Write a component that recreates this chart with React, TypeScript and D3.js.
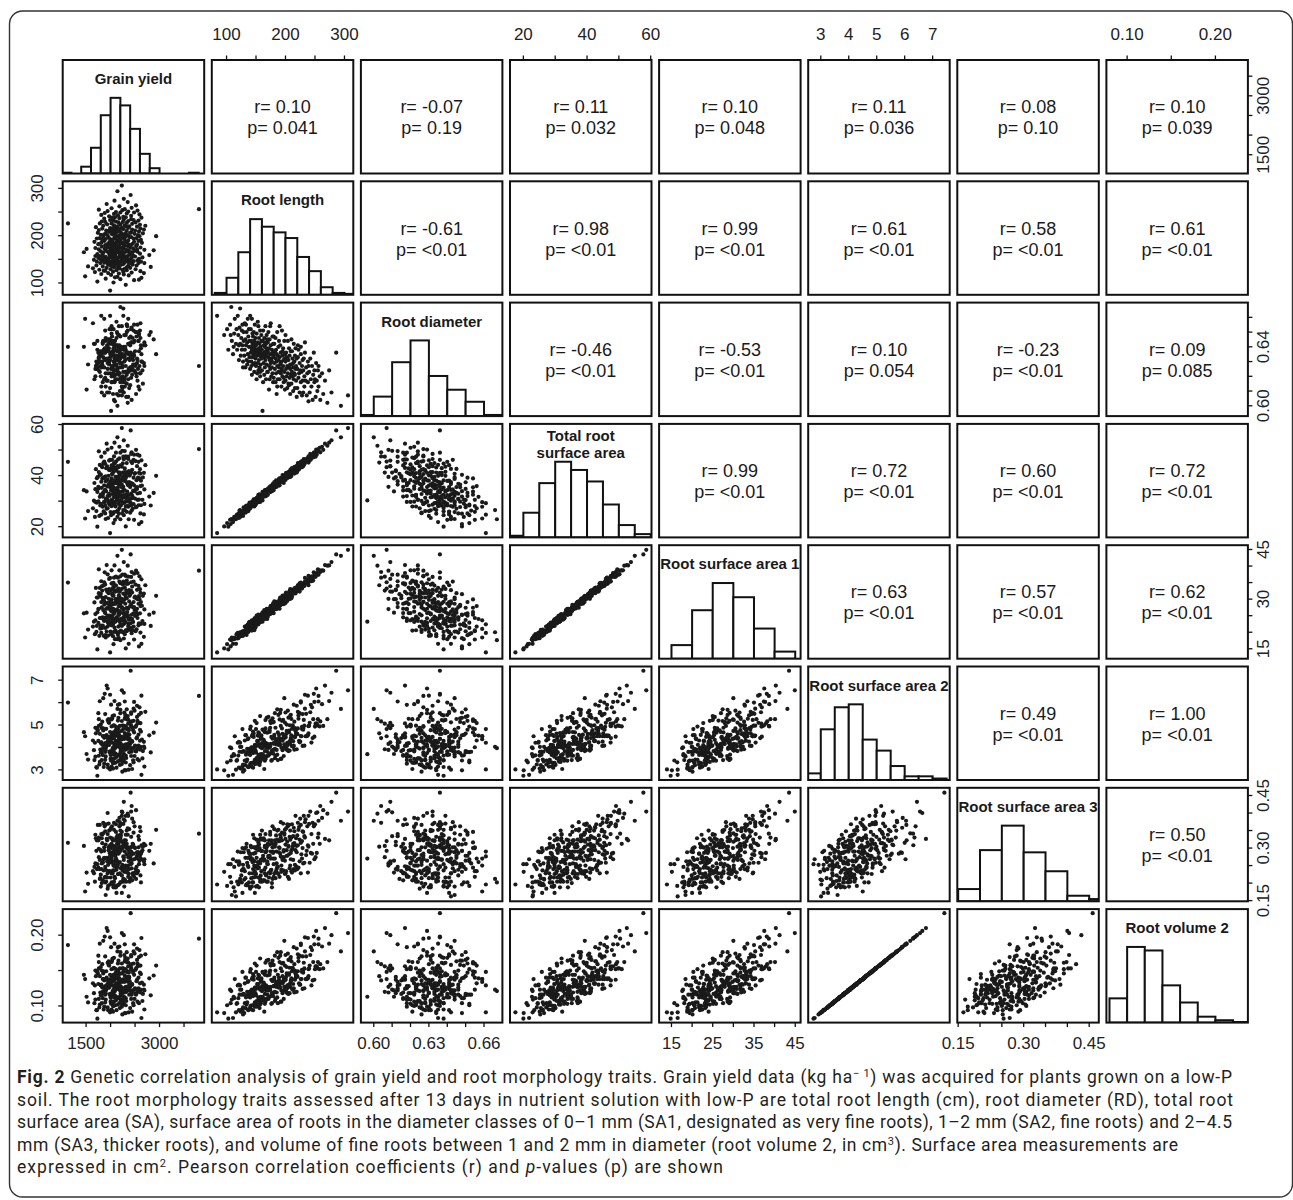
import React from "react";
import * as d3 from "d3";

// ---------------- DATA ----------------
const traitLabels: string[][] = [
  ["Grain yield"],
  ["Root length"],
  ["Root diameter"],
  ["Total root", "surface area"],
  ["Root surface area 1"],
  ["Root surface area 2"],
  ["Root surface area 3"],
  ["Root volume 2"],
];

// axis ranges (usr) of each trait
const axisDomains: [number, number][] = [
  [1022, 3912],
  [75, 315],
  [0.593, 0.67],
  [15.8, 60.25],
  [12.0, 46.3],
  [2.55, 7.61],
  [0.148, 0.472],
  [0.0765, 0.2368],
];

const axisTicks: number[][] = [
  [1500, 2000, 2500, 3000, 3500],
  [100, 150, 200, 250, 300],
  [0.6, 0.61, 0.62, 0.63, 0.64, 0.65, 0.66],
  [20, 30, 40, 50, 60],
  [15, 20, 25, 30, 35, 40, 45],
  [3, 4, 5, 6, 7],
  [0.15, 0.2, 0.25, 0.3, 0.35, 0.4, 0.45],
  [0.1, 0.15, 0.2],
];
const tickDecimals = [0, 0, 2, 0, 0, 0, 2, 2];
const columnAxisLabels: number[][] = [
  [1500, 3000],
  [100, 200, 300],
  [0.6, 0.63, 0.66],
  [20, 40, 60],
  [15, 25, 35, 45],
  [3, 4, 5, 6, 7],
  [0.15, 0.3, 0.45],
  [0.1, 0.2],
];
const rowAxisLabels: number[][] = [
  [1500, 3000],
  [100, 200, 300],
  [0.6, 0.64],
  [20, 40, 60],
  [15, 30, 45],
  [3, 5, 7],
  [0.15, 0.3, 0.45],
  [0.1, 0.2],
];

// histogram bins (start, width) and counts
const histStart = [1000, 80, 0.59, 15, 15, 2.5, 0.15, 0.08];
const histWidth = [200, 20, 0.01, 5, 5, 0.5, 0.05, 0.02];
const yieldCounts = [1, 0, 9, 34, 77, 100, 90, 59, 26, 7, 0, 0, 0, 1];
const lengthCounts = [2, 18, 45, 80, 72, 66, 60, 40, 25, 8, 2, 1];
const diameterCounts = [2, 34, 94, 132, 70, 46, 25, 2];
const saCounts = [2, 30, 66, 92, 82, 68, 40, 15, 4];
const sa1Counts = [23, 82, 128, 104, 51, 12];
const sa2Counts = [9, 69, 99, 103, 55, 40, 19, 5, 5, 2];
const sa3Counts = [22, 92, 136, 88, 54, 10, 4];
const rv2Counts = [41, 128, 122, 63, 34, 10, 4, 1];
const histCounts = [yieldCounts, lengthCounts, diameterCounts, saCounts, sa1Counts, sa2Counts, sa3Counts, rv2Counts];

// upper panels, row-major over the upper triangle
const rValues = [
  "0.10", "-0.07", "0.11", "0.10", "0.11", "0.08", "0.10",
  "-0.61", "0.98", "0.99", "0.61", "0.58", "0.61",
  "-0.46", "-0.53", "0.10", "-0.23", "0.09",
  "0.99", "0.72", "0.60", "0.72",
  "0.63", "0.57", "0.62",
  "0.49", "1.00",
  "0.50",
];
const pValues = [
  "0.041", "0.19", "0.032", "0.048", "0.036", "0.10", "0.039",
  "<0.01", "<0.01", "<0.01", "<0.01", "<0.01", "<0.01",
  "<0.01", "<0.01", "0.054", "<0.01", "0.085",
  "<0.01", "<0.01", "<0.01", "<0.01",
  "<0.01", "<0.01", "<0.01",
  "<0.01", "<0.01",
  "<0.01",
];

// observations: [grain yield, root length, root diameter, SA, SA1, SA2, SA3, root volume 2]
const plants: number[][] = [
  [1990, 84, 0.661, 17.5, 13.9, 3.02, 0.196, 0.091],
  [2310, 96, 0.648, 20.1, 15.1, 2.98, 0.232, 0.09],
  [2060, 101, 0.652, 21.4, 16.4, 3.34, 0.192, 0.101],
  [1730, 103, 0.638, 20.0, 14.8, 2.74, 0.254, 0.082],
  [2480, 106, 0.655, 22.7, 17.8, 4.01, 0.218, 0.123],
  [2200, 108, 0.667, 22.9, 17.6, 3.97, 0.202, 0.121],
  [1900, 109, 0.644, 23.0, 18.4, 3.6, 0.166, 0.109],
  [2630, 111, 0.635, 21.8, 16.5, 2.78, 0.268, 0.083],
  [2140, 113, 0.649, 23.8, 17.9, 3.65, 0.246, 0.111],
  [1480, 114, 0.659, 23.2, 18.4, 4.5, 0.176, 0.138],
  [2370, 116, 0.642, 22.9, 16.5, 3.01, 0.162, 0.091],
  [2010, 117, 0.652, 24.5, 19.4, 3.41, 0.262, 0.103],
  [2270, 118, 0.638, 24.5, 18.1, 3.44, 0.204, 0.104],
  [1810, 119, 0.661, 24.7, 19.8, 4.21, 0.29, 0.129],
  [2580, 107, 0.648, 21.0, 15.7, 3.42, 0.254, 0.104],
  [2090, 112, 0.64, 22.7, 17.9, 3.71, 0.188, 0.113],
  [2170, 120, 0.648, 25.1, 18.2, 3.64, 0.196, 0.111],
  [1950, 121, 0.631, 23.4, 19.0, 3.1, 0.252, 0.094],
  [2430, 122, 0.653, 26.3, 19.7, 3.81, 0.256, 0.116],
  [1680, 123, 0.642, 23.8, 19.4, 4.21, 0.204, 0.129],
  [2260, 123, 0.666, 26.5, 20.0, 4.03, 0.212, 0.123],
  [2050, 124, 0.634, 25.1, 18.8, 3.06, 0.288, 0.092],
  [2610, 125, 0.646, 25.2, 19.9, 4.03, 0.222, 0.123],
  [1860, 126, 0.638, 26.0, 18.9, 3.13, 0.236, 0.095],
  [2330, 127, 0.655, 25.8, 20.3, 4.82, 0.3, 0.148],
  [2120, 127, 0.641, 25.9, 20.0, 3.1, 0.172, 0.094],
  [1770, 128, 0.63, 24.2, 18.9, 3.24, 0.24, 0.098],
  [2510, 129, 0.65, 27.6, 20.3, 3.84, 0.24, 0.117],
  [2000, 129, 0.644, 25.7, 20.2, 3.82, 0.288, 0.116],
  [2290, 130, 0.634, 26.5, 19.4, 2.99, 0.21, 0.09],
  [1640, 131, 0.656, 27.2, 21.7, 4.31, 0.234, 0.132],
  [2180, 131, 0.638, 27.3, 20.1, 3.42, 0.298, 0.104],
  [2400, 132, 0.626, 25.5, 20.7, 3.21, 0.214, 0.097],
  [1920, 132, 0.645, 27.1, 20.2, 4.55, 0.272, 0.14],
  [2070, 133, 0.641, 25.7, 20.1, 3.68, 0.194, 0.112],
  [2820, 134, 0.65, 28.3, 21.9, 3.78, 0.312, 0.115],
  [2150, 134, 0.631, 26.4, 19.2, 3.38, 0.194, 0.102],
  [1840, 135, 0.643, 27.8, 22.0, 3.94, 0.258, 0.12],
  [2360, 136, 0.659, 27.8, 21.0, 4.37, 0.25, 0.134],
  [2020, 136, 0.635, 28.0, 22.3, 3.15, 0.272, 0.095],
  [2530, 137, 0.647, 27.7, 20.9, 4.41, 0.246, 0.135],
  [1710, 137, 0.63, 26.1, 20.1, 3.12, 0.292, 0.094],
  [2210, 138, 0.64, 28.3, 20.5, 3.83, 0.202, 0.117],
  [1980, 138, 0.652, 28.6, 22.9, 3.79, 0.286, 0.116],
  [2450, 139, 0.633, 27.0, 20.6, 3.94, 0.228, 0.12],
  [2090, 139, 0.644, 29.4, 23.1, 3.7, 0.19, 0.113],
  [2680, 121, 0.641, 24.8, 18.6, 4.25, 0.262, 0.13],
  [1890, 126, 0.651, 25.2, 19.1, 3.8, 0.202, 0.116],
  [2240, 128, 0.626, 25.3, 20.1, 2.92, 0.252, 0.088],
  [2330, 133, 0.655, 28.1, 20.6, 4.55, 0.302, 0.14],
  [1540, 135, 0.628, 26.1, 20.8, 3.46, 0.198, 0.105],
  [2160, 140, 0.64, 28.9, 21.7, 3.67, 0.284, 0.112],
  [1940, 140, 0.625, 27.2, 21.7, 3.24, 0.184, 0.098],
  [2420, 141, 0.652, 28.3, 21.3, 4.93, 0.268, 0.152],
  [2050, 141, 0.636, 29.3, 22.2, 3.3, 0.306, 0.1],
  [1790, 142, 0.63, 28.3, 21.1, 3.91, 0.214, 0.119],
  [2570, 142, 0.644, 28.4, 22.1, 3.99, 0.302, 0.122],
  [2280, 143, 0.638, 29.5, 22.6, 4.01, 0.19, 0.123],
  [1870, 143, 0.659, 29.6, 23.6, 4.51, 0.27, 0.138],
  [2100, 143, 0.621, 27.9, 20.5, 3.32, 0.266, 0.101],
  [2360, 144, 0.642, 28.1, 21.9, 3.98, 0.228, 0.122],
  [1990, 144, 0.633, 29.2, 22.6, 3.83, 0.26, 0.117],
  [2200, 145, 0.647, 29.8, 22.3, 3.75, 0.338, 0.114],
  [2620, 145, 0.639, 28.4, 22.5, 4.71, 0.202, 0.145],
  [1720, 145, 0.628, 29.4, 21.9, 3.1, 0.24, 0.094],
  [2130, 146, 0.65, 30.4, 23.7, 4.62, 0.264, 0.142],
  [2470, 146, 0.635, 28.8, 21.7, 3.34, 0.284, 0.101],
  [1930, 146, 0.641, 30.7, 23.4, 4.47, 0.216, 0.137],
  [2310, 147, 0.623, 27.9, 20.6, 3.33, 0.25, 0.101],
  [2040, 147, 0.644, 29.9, 24.0, 3.79, 0.262, 0.116],
  [1820, 147, 0.637, 28.3, 21.2, 3.8, 0.328, 0.116],
  [2550, 148, 0.655, 30.5, 24.3, 5.19, 0.234, 0.16],
  [2230, 148, 0.629, 29.8, 21.9, 3.26, 0.172, 0.099],
  [1960, 148, 0.639, 29.3, 22.7, 4.11, 0.302, 0.126],
  [2380, 149, 0.646, 30.8, 23.8, 3.79, 0.286, 0.116],
  [2080, 149, 0.632, 28.6, 21.4, 4.12, 0.218, 0.126],
  [1660, 149, 0.642, 30.2, 23.2, 3.88, 0.228, 0.118],
  [2260, 140, 0.661, 29.2, 22.4, 4.82, 0.276, 0.148],
  [2690, 142, 0.627, 28.9, 22.5, 3.15, 0.268, 0.095],
  [2020, 144, 0.649, 29.1, 22.1, 4.56, 0.202, 0.14],
  [2410, 146, 0.634, 29.3, 22.7, 3.98, 0.302, 0.122],
  [1890, 148, 0.636, 28.3, 21.3, 3.45, 0.246, 0.105],
  [2140, 150, 0.641, 30.9, 24.0, 4.05, 0.298, 0.124],
  [1800, 150, 0.627, 28.9, 22.0, 3.78, 0.19, 0.115],
  [2320, 151, 0.636, 31.2, 25.0, 3.53, 0.248, 0.107],
  [2580, 151, 0.649, 30.6, 22.7, 5.09, 0.324, 0.157],
  [2060, 152, 0.622, 29.8, 23.1, 3.31, 0.25, 0.1],
  [1950, 152, 0.638, 29.7, 22.9, 4.29, 0.192, 0.131],
  [2240, 152, 0.634, 31.2, 23.6, 3.37, 0.304, 0.102],
  [2430, 153, 0.643, 31.1, 24.0, 4.26, 0.242, 0.13],
  [1750, 153, 0.629, 29.9, 22.8, 4.29, 0.244, 0.131],
  [2170, 154, 0.654, 32.5, 25.3, 4.67, 0.316, 0.144],
  [2000, 154, 0.635, 29.6, 22.4, 3.67, 0.216, 0.112],
  [2650, 154, 0.624, 30.5, 23.4, 3.51, 0.294, 0.107],
  [2290, 155, 0.639, 31.5, 23.5, 4.64, 0.244, 0.143],
  [1900, 155, 0.646, 30.9, 24.4, 4.13, 0.31, 0.126],
  [2110, 155, 0.631, 31.5, 23.4, 3.55, 0.188, 0.108],
  [2500, 156, 0.637, 31.0, 24.9, 4.08, 0.3, 0.125],
  [1840, 156, 0.642, 32.7, 24.1, 4.51, 0.26, 0.138],
  [2190, 156, 0.626, 30.1, 23.2, 3.22, 0.26, 0.097],
  [2350, 157, 0.651, 32.0, 25.0, 5.4, 0.338, 0.167],
  [2070, 157, 0.634, 31.6, 23.3, 4.02, 0.204, 0.123],
  [1690, 157, 0.62, 29.7, 23.6, 3.59, 0.256, 0.109],
  [2270, 158, 0.64, 32.4, 24.5, 3.7, 0.266, 0.113],
  [2030, 158, 0.636, 30.6, 24.3, 4.38, 0.328, 0.134],
  [2460, 158, 0.628, 31.3, 23.1, 3.43, 0.222, 0.104],
  [1980, 159, 0.644, 32.1, 25.0, 4.46, 0.234, 0.137],
  [2210, 159, 0.633, 32.4, 23.8, 3.51, 0.292, 0.107],
  [2790, 159, 0.648, 31.8, 25.3, 4.54, 0.292, 0.139],
  [2370, 150, 0.635, 29.8, 22.6, 4.82, 0.226, 0.148],
  [1870, 151, 0.618, 29.7, 23.4, 3.28, 0.272, 0.099],
  [2120, 153, 0.657, 31.7, 24.0, 4.53, 0.26, 0.139],
  [2310, 155, 0.638, 29.8, 23.0, 3.64, 0.322, 0.111],
  [1780, 157, 0.623, 31.7, 24.3, 3.36, 0.212, 0.102],
  [2090, 160, 0.638, 32.5, 24.0, 3.97, 0.292, 0.121],
  [2390, 160, 0.624, 30.6, 24.2, 4.0, 0.204, 0.122],
  [2010, 161, 0.5965, 30.3, 23.2, 3.7, 0.27, 0.113],
  [1730, 161, 0.644, 33.6, 26.0, 4.8, 0.324, 0.148],
  [2250, 162, 0.635, 31.8, 24.0, 3.56, 0.206, 0.108],
  [2600, 162, 0.651, 33.2, 25.7, 4.79, 0.278, 0.147],
  [1970, 163, 0.629, 32.9, 24.2, 4.12, 0.264, 0.126],
  [2180, 163, 0.641, 31.9, 25.5, 4.34, 0.328, 0.133],
  [2440, 164, 0.621, 32.2, 24.0, 3.04, 0.208, 0.092],
  [1850, 164, 0.636, 33.4, 26.7, 4.76, 0.268, 0.146],
  [2120, 164, 0.646, 32.9, 24.5, 4.26, 0.238, 0.13],
  [2280, 165, 0.633, 31.9, 24.7, 4.1, 0.322, 0.125],
  [2040, 165, 0.626, 32.8, 25.1, 3.41, 0.228, 0.103],
  [1455, 165, 0.64, 34.3, 25.7, 4.68, 0.306, 0.144],
  [2340, 166, 0.654, 33.7, 26.1, 4.85, 0.244, 0.149],
  [2550, 166, 0.631, 33.0, 25.4, 3.48, 0.288, 0.106],
  [1940, 166, 0.637, 32.0, 25.0, 5.22, 0.34, 0.161],
  [2230, 167, 0.618, 32.0, 24.1, 3.57, 0.222, 0.109],
  [2070, 167, 0.642, 34.4, 26.2, 3.99, 0.29, 0.122],
  [1800, 167, 0.634, 32.6, 24.3, 4.2, 0.224, 0.129],
  [2490, 168, 0.628, 33.9, 26.7, 3.62, 0.302, 0.11],
  [2160, 168, 0.648, 33.9, 25.2, 5.32, 0.292, 0.164],
  [1910, 168, 0.639, 33.8, 27.1, 4.03, 0.204, 0.123],
  [2370, 169, 0.623, 32.4, 24.0, 4.14, 0.262, 0.127],
  [2010, 169, 0.636, 34.2, 26.4, 3.81, 0.308, 0.116],
  [2880, 169, 0.645, 33.2, 25.9, 4.66, 0.256, 0.143],
  [2200, 160, 0.632, 31.7, 24.0, 4.19, 0.35, 0.128],
  [1840, 162, 0.616, 31.8, 24.5, 3.66, 0.208, 0.111],
  [2420, 165, 0.643, 33.0, 25.2, 3.84, 0.302, 0.117],
  [2130, 170, 0.637, 34.6, 26.9, 4.15, 0.312, 0.127],
  [2320, 170, 0.623, 32.5, 24.7, 4.07, 0.204, 0.124],
  [1760, 171, 0.633, 35.0, 27.1, 3.63, 0.274, 0.11],
  [2540, 171, 0.65, 34.8, 25.5, 5.36, 0.278, 0.165],
  [2050, 172, 0.627, 34.2, 27.1, 3.99, 0.322, 0.122],
  [1880, 172, 0.639, 34.0, 26.1, 4.11, 0.216, 0.126],
  [2270, 173, 0.618, 34.3, 26.9, 3.7, 0.274, 0.113],
  [2460, 173, 0.631, 34.1, 25.6, 4.77, 0.31, 0.147],
  [1990, 173, 0.645, 35.5, 26.9, 4.69, 0.278, 0.144],
  [2190, 174, 0.635, 33.6, 26.4, 4.04, 0.228, 0.123],
  [1690, 174, 0.625, 34.7, 25.5, 4.88, 0.338, 0.15],
  [2400, 175, 0.641, 35.5, 27.9, 4.16, 0.29, 0.127],
  [2080, 175, 0.629, 33.8, 25.8, 3.75, 0.236, 0.114],
  [2610, 175, 0.656, 35.9, 27.9, 5.09, 0.27, 0.157],
  [1930, 176, 0.632, 35.8, 27.2, 4.47, 0.322, 0.137],
  [2250, 176, 0.62, 33.8, 25.8, 3.41, 0.238, 0.103],
  [2150, 177, 0.638, 35.3, 26.4, 5.2, 0.314, 0.16],
  [1820, 177, 0.626, 35.2, 27.5, 3.44, 0.2, 0.104],
  [2350, 178, 0.636, 36.6, 27.3, 4.39, 0.302, 0.135],
  [2030, 178, 0.647, 35.4, 28.3, 5.3, 0.362, 0.164],
  [2520, 178, 0.622, 34.9, 26.2, 3.82, 0.212, 0.116],
  [2100, 179, 0.634, 35.0, 26.6, 3.73, 0.286, 0.114],
  [1960, 179, 0.642, 36.7, 28.7, 5.12, 0.27, 0.158],
  [2290, 179, 0.616, 34.2, 25.8, 3.89, 0.29, 0.119],
  [2690, 170, 0.643, 34.6, 26.9, 3.98, 0.254, 0.122],
  [1510, 172, 0.611, 33.8, 25.9, 3.71, 0.23, 0.113],
  [2230, 174, 0.654, 35.4, 27.4, 5.18, 0.346, 0.16],
  [2060, 177, 0.63, 34.0, 25.9, 3.86, 0.188, 0.118],
  [2170, 180, 0.633, 36.4, 27.8, 4.17, 0.306, 0.128],
  [1890, 180, 0.619, 34.4, 25.8, 4.19, 0.218, 0.128],
  [2380, 181, 0.642, 37.5, 29.3, 4.56, 0.354, 0.14],
  [2540, 181, 0.629, 35.5, 27.1, 4.45, 0.228, 0.137],
  [2010, 182, 0.625, 36.8, 28.8, 3.52, 0.27, 0.107],
  [1750, 182, 0.636, 35.6, 27.0, 5.53, 0.322, 0.171],
  [2260, 183, 0.616, 35.6, 27.1, 3.63, 0.312, 0.11],
  [2090, 183, 0.632, 37.0, 28.9, 4.21, 0.214, 0.129],
  [2450, 183, 0.646, 36.8, 27.6, 4.88, 0.312, 0.15],
  [1950, 184, 0.622, 35.8, 27.6, 4.31, 0.234, 0.132],
  [2210, 184, 0.638, 38.1, 29.2, 4.14, 0.336, 0.127],
  [2640, 185, 0.63, 36.1, 28.0, 4.35, 0.29, 0.133],
  [2050, 185, 0.608, 35.6, 27.0, 3.89, 0.256, 0.119],
  [1810, 185, 0.635, 37.6, 29.1, 4.23, 0.24, 0.13],
  [2330, 186, 0.65, 37.4, 27.4, 5.7, 0.35, 0.176],
  [2120, 186, 0.627, 37.0, 29.2, 3.68, 0.324, 0.112],
  [2480, 187, 0.634, 36.2, 27.6, 4.67, 0.228, 0.144],
  [1670, 187, 0.618, 37.1, 29.0, 3.44, 0.246, 0.104],
  [2300, 188, 0.64, 37.9, 28.6, 5.45, 0.32, 0.168],
  [1990, 188, 0.631, 36.5, 27.8, 4.26, 0.352, 0.13],
  [2150, 188, 0.623, 37.1, 29.2, 4.11, 0.226, 0.126],
  [2570, 189, 0.644, 38.7, 28.6, 4.57, 0.288, 0.14],
  [1870, 189, 0.626, 36.2, 28.3, 4.43, 0.302, 0.136],
  [2410, 180, 0.647, 36.5, 27.9, 5.14, 0.254, 0.158],
  [2040, 182, 0.637, 37.0, 28.7, 3.94, 0.304, 0.12],
  [2230, 186, 0.613, 36.5, 27.6, 4.36, 0.246, 0.134],
  [2140, 190, 0.633, 38.2, 29.1, 4.3, 0.32, 0.132],
  [2360, 190, 0.618, 36.2, 27.1, 4.17, 0.218, 0.128],
  [1830, 191, 0.628, 38.8, 30.5, 4.12, 0.338, 0.126],
  [2620, 191, 0.641, 38.0, 29.1, 5.54, 0.284, 0.171],
  [2000, 192, 0.622, 37.7, 29.3, 3.49, 0.276, 0.106],
  [2190, 192, 0.636, 37.4, 28.2, 4.96, 0.374, 0.153],
  [1900, 193, 0.613, 37.8, 28.8, 3.99, 0.238, 0.122],
  [2280, 193, 0.63, 38.0, 29.8, 4.38, 0.232, 0.134],
  [2470, 194, 0.651, 39.2, 29.1, 5.19, 0.344, 0.16],
  [1720, 194, 0.625, 39.0, 30.5, 4.85, 0.322, 0.149],
  [2110, 195, 0.634, 38.0, 28.6, 4.3, 0.27, 0.132],
  [2530, 195, 0.62, 38.2, 30.2, 3.88, 0.272, 0.118],
  [1960, 196, 0.639, 39.9, 30.1, 5.23, 0.37, 0.161],
  [2250, 196, 0.627, 38.1, 29.2, 3.97, 0.236, 0.121],
  [2080, 197, 0.616, 38.0, 28.6, 4.51, 0.294, 0.138],
  [2390, 197, 0.631, 40.0, 31.0, 4.39, 0.274, 0.135],
  [1850, 198, 0.644, 39.3, 30.0, 6.2, 0.342, 0.192],
  [2310, 198, 0.623, 39.1, 30.7, 4.14, 0.338, 0.127],
  [2160, 199, 0.632, 39.1, 29.6, 4.09, 0.226, 0.125],
  [2590, 199, 0.611, 38.9, 30.0, 3.98, 0.264, 0.122],
  [2020, 190, 0.654, 38.9, 29.9, 5.25, 0.3, 0.162],
  [2200, 192, 0.629, 38.1, 28.6, 5.68, 0.33, 0.176],
  [1780, 195, 0.637, 40.2, 31.1, 4.61, 0.266, 0.142],
  [2420, 197, 0.619, 37.1, 28.5, 3.62, 0.29, 0.11],
  [2930, 199, 0.635, 39.9, 31.0, 5.11, 0.352, 0.157],
  [2070, 193, 0.624, 37.8, 28.6, 3.5, 0.25, 0.106],
  [2180, 200, 0.63, 40.1, 30.7, 4.47, 0.326, 0.137],
  [1940, 200, 0.617, 38.3, 28.8, 4.45, 0.228, 0.137],
  [2350, 201, 0.636, 41.1, 32.0, 4.6, 0.356, 0.141],
  [2560, 201, 0.625, 39.2, 29.9, 3.95, 0.234, 0.121],
  [1800, 202, 0.62, 40.5, 31.6, 5.02, 0.294, 0.155],
  [2100, 202, 0.633, 39.5, 30.0, 4.74, 0.278, 0.146],
  [2240, 203, 0.612, 39.4, 30.0, 3.88, 0.318, 0.118],
  [2030, 203, 0.627, 40.6, 31.7, 4.21, 0.278, 0.129],
  [2490, 204, 0.644, 40.7, 30.5, 5.64, 0.362, 0.174],
  [1900, 204, 0.622, 39.7, 30.6, 3.88, 0.218, 0.118],
  [2300, 205, 0.631, 41.4, 31.7, 5.33, 0.306, 0.165],
  [2660, 205, 0.615, 39.3, 31.0, 3.84, 0.304, 0.117],
  [2060, 206, 0.639, 41.5, 31.0, 4.67, 0.282, 0.144],
  [1740, 206, 0.626, 39.5, 30.5, 4.75, 0.366, 0.146],
  [2210, 207, 0.619, 40.9, 30.1, 3.86, 0.242, 0.118],
  [2420, 207, 0.634, 41.2, 32.5, 4.99, 0.332, 0.154],
  [2130, 208, 0.608, 39.5, 30.1, 4.16, 0.25, 0.127],
  [1970, 208, 0.628, 42.2, 33.0, 4.31, 0.35, 0.132],
  [2580, 209, 0.637, 41.1, 30.9, 5.46, 0.268, 0.169],
  [2170, 209, 0.621, 41.2, 31.2, 4.42, 0.286, 0.136],
  [2280, 200, 0.648, 40.3, 31.5, 5.56, 0.31, 0.172],
  [1870, 203, 0.632, 39.1, 29.4, 4.08, 0.368, 0.125],
  [2400, 206, 0.614, 40.7, 31.5, 4.24, 0.212, 0.13],
  [2040, 208, 0.625, 40.7, 31.2, 5.4, 0.324, 0.167],
  [2120, 210, 0.628, 41.9, 32.5, 4.54, 0.33, 0.139],
  [2330, 210, 0.615, 39.8, 30.3, 4.42, 0.234, 0.136],
  [1910, 211, 0.637, 42.9, 32.9, 4.83, 0.368, 0.149],
  [2500, 211, 0.623, 41.0, 30.8, 4.06, 0.23, 0.124],
  [2070, 212, 0.62, 42.3, 32.8, 4.99, 0.304, 0.154],
  [1760, 212, 0.632, 41.4, 31.8, 4.96, 0.298, 0.153],
  [2190, 213, 0.61, 41.2, 32.3, 4.04, 0.334, 0.123],
  [2440, 213, 0.626, 42.3, 32.0, 4.28, 0.266, 0.131],
  [2010, 214, 0.642, 42.6, 32.7, 5.91, 0.358, 0.183],
  [2260, 214, 0.618, 41.3, 31.7, 4.08, 0.24, 0.125],
  [1830, 215, 0.63, 43.3, 32.6, 5.15, 0.314, 0.159],
  [2610, 215, 0.622, 40.8, 31.9, 3.9, 0.348, 0.119],
  [2150, 216, 0.634, 43.2, 32.7, 4.86, 0.252, 0.15],
  [1990, 216, 0.612, 42.1, 32.9, 4.46, 0.308, 0.137],
  [2370, 217, 0.625, 41.7, 31.7, 4.77, 0.294, 0.147],
  [2230, 217, 0.639, 43.5, 33.1, 4.74, 0.392, 0.146],
  [2090, 218, 0.617, 43.0, 32.2, 4.63, 0.248, 0.142],
  [1700, 218, 0.627, 42.5, 33.4, 4.63, 0.328, 0.142],
  [2540, 219, 0.632, 43.7, 32.8, 5.86, 0.288, 0.181],
  [2320, 219, 0.606, 41.2, 32.6, 3.92, 0.306, 0.12],
  [1960, 210, 0.645, 42.6, 31.8, 5.27, 0.294, 0.163],
  [2680, 213, 0.629, 41.1, 31.7, 4.04, 0.312, 0.123],
  [2050, 216, 0.621, 43.2, 33.4, 4.5, 0.236, 0.138],
  [2140, 220, 0.625, 43.7, 32.5, 4.61, 0.336, 0.142],
  [2380, 220, 0.612, 41.7, 32.7, 4.59, 0.24, 0.141],
  [1850, 221, 0.633, 44.9, 34.1, 4.85, 0.372, 0.149],
  [2290, 222, 0.619, 42.8, 33.5, 5.28, 0.244, 0.163],
  [2070, 222, 0.638, 44.7, 33.8, 5.43, 0.352, 0.168],
  [2600, 223, 0.622, 42.5, 33.0, 4.3, 0.36, 0.132],
  [1930, 224, 0.609, 43.6, 32.3, 4.23, 0.262, 0.13],
  [2200, 224, 0.629, 44.0, 34.8, 5.53, 0.324, 0.171],
  [2440, 225, 0.624, 44.9, 33.8, 4.26, 0.384, 0.13],
  [2020, 226, 0.616, 44.0, 34.7, 4.51, 0.228, 0.138],
  [1780, 226, 0.635, 44.2, 33.4, 6.06, 0.366, 0.188],
  [2330, 227, 0.623, 44.9, 34.6, 4.5, 0.282, 0.138],
  [2160, 228, 0.607, 43.3, 33.2, 4.82, 0.32, 0.148],
  [2510, 228, 0.627, 45.7, 34.4, 4.92, 0.27, 0.151],
  [1890, 229, 0.631, 44.6, 34.4, 5.49, 0.348, 0.17],
  [2250, 229, 0.617, 44.8, 34.4, 4.07, 0.3, 0.124],
  [2710, 221, 0.641, 44.1, 34.2, 5.59, 0.308, 0.173],
  [2110, 230, 0.624, 45.5, 34.1, 4.79, 0.346, 0.147],
  [1820, 230, 0.609, 43.7, 33.9, 4.86, 0.256, 0.15],
  [2360, 231, 0.632, 46.5, 34.7, 5.23, 0.392, 0.161],
  [2060, 232, 0.62, 44.4, 34.9, 4.97, 0.258, 0.153],
  [2570, 232, 0.613, 45.4, 34.0, 4.08, 0.334, 0.125],
  [1990, 233, 0.636, 46.2, 36.4, 6.35, 0.33, 0.197],
  [2270, 234, 0.617, 46.4, 34.7, 4.5, 0.382, 0.138],
  [2420, 235, 0.626, 45.5, 35.1, 5.5, 0.28, 0.17],
  [1870, 236, 0.607, 45.5, 35.1, 4.5, 0.292, 0.138],
  [2180, 237, 0.622, 46.8, 35.3, 4.53, 0.362, 0.139],
  [2630, 238, 0.63, 46.0, 36.0, 6.31, 0.308, 0.196],
  [2030, 238, 0.616, 46.2, 34.8, 4.54, 0.23, 0.139],
  [2310, 239, 0.627, 47.5, 37.0, 4.95, 0.392, 0.152],
  [2090, 239, 0.603, 45.1, 34.2, 4.63, 0.304, 0.142],
  [2470, 233, 0.643, 46.2, 35.3, 5.73, 0.374, 0.177],
  [2260, 240, 0.623, 47.4, 35.3, 4.97, 0.369, 0.153],
  [1970, 241, 0.609, 45.9, 36.1, 5.1, 0.258, 0.157],
  [2420, 242, 0.632, 48.5, 36.7, 5.57, 0.404, 0.172],
  [2150, 243, 0.618, 46.3, 36.5, 5.9, 0.286, 0.183],
  [1810, 244, 0.613, 47.4, 35.4, 4.22, 0.34, 0.129],
  [2590, 245, 0.627, 47.8, 36.9, 5.79, 0.284, 0.179],
  [2070, 246, 0.604, 47.5, 36.5, 4.42, 0.372, 0.136],
  [2330, 247, 0.621, 47.1, 35.6, 5.26, 0.312, 0.162],
  [1880, 248, 0.636, 49.0, 38.1, 6.39, 0.362, 0.198],
  [2200, 249, 0.616, 49.0, 36.9, 4.48, 0.366, 0.137],
  [2480, 249, 0.624, 48.2, 37.7, 6.03, 0.268, 0.187],
  [2110, 250, 0.618, 49.0, 36.8, 4.93, 0.368, 0.152],
  [2360, 251, 0.606, 47.4, 36.8, 5.06, 0.274, 0.156],
  [1940, 252, 0.629, 50.2, 37.5, 6.63, 0.4, 0.206],
  [2550, 253, 0.617, 48.2, 37.9, 5.07, 0.286, 0.156],
  [2240, 254, 0.61, 49.7, 37.4, 4.98, 0.402, 0.153],
  [1760, 255, 0.624, 49.5, 39.0, 5.26, 0.33, 0.162],
  [2290, 256, 0.613, 49.6, 37.4, 6.05, 0.378, 0.187],
  [2020, 258, 0.62, 50.9, 38.7, 4.94, 0.312, 0.152],
  [2430, 259, 0.604, 49.1, 38.2, 5.16, 0.42, 0.159],
  [2180, 262, 0.622, 51.3, 38.7, 5.93, 0.386, 0.184],
  [2520, 264, 0.608, 50.1, 38.6, 4.96, 0.408, 0.153],
  [1920, 267, 0.617, 52.5, 40.3, 6.76, 0.326, 0.21],
  [2350, 271, 0.602, 51.7, 40.1, 5.26, 0.398, 0.162],
  [2080, 274, 0.624, 52.9, 40.2, 6.07, 0.322, 0.188],
  [2270, 278, 0.609, 53.8, 41.2, 6.44, 0.432, 0.2],
  [2410, 286, 0.636, 57.7, 43.5, 7.42, 0.458, 0.231],
  [2140, 294, 0.6, 55.0, 43.1, 5.72, 0.378, 0.177],
  [2230, 306, 0.607, 58.6, 44.9, 6.55, 0.404, 0.203],
  [1129, 226, 0.64, 45.4, 35.0, 6.0, 0.315, 0.186],
  [3805, 256, 0.627, 50.4, 38.6, 6.3, 0.341, 0.195],
];

type Seg = { t: string; b?: boolean; i?: boolean; sup?: boolean };
const captionLines: Seg[][] = [
  [
    { t: "Fig. 2", b: true },
    { t: " Genetic correlation analysis of grain yield and root morphology traits. Grain yield data (kg ha" },
    { t: "− 1", sup: true },
    { t: ") was acquired for plants grown on a low-P" },
  ],
  [{ t: "soil. The root morphology traits assessed after 13 days in nutrient solution with low-P are total root length (cm), root diameter (RD), total root" }],
  [{ t: "surface area (SA), surface area of roots in the diameter classes of 0–1 mm (SA1, designated as very fine roots), 1–2 mm (SA2, fine roots) and 2–4.5" }],
  [
    { t: "mm (SA3, thicker roots), and volume of fine roots between 1 and 2 mm in diameter (root volume 2, in cm" },
    { t: "3", sup: true },
    { t: "). Surface area measurements are" },
  ],
  [
    { t: "expressed in cm" },
    { t: "2", sup: true },
    { t: ". Pearson correlation coefficients (r) and " },
    { t: "p", i: true },
    { t: "-values (p) are shown" },
  ],
];
const captionWidths = [1215, 1216, 1215, 1161, 706];

// ---------------- LAYOUT ----------------
const W = 1293;
const H = 1200;
const X0 = 62.7;
const PITCH_X = 149.1;
const Y0 = 60;
const PITCH_Y = 121.3;
const PW = 141.5;
const PH = 113.5;
const FONT = "'Liberation Sans', Arial, Helvetica, sans-serif";
const INK = "#1a1a1a";

const left = (c: number) => X0 + c * PITCH_X;
const top = (r: number) => Y0 + r * PITCH_Y;

export default function App() {
  const n = traitLabels.length;
  const xs = axisDomains.map((d, c) => d3.scaleLinear().domain(d).range([left(c), left(c) + PW]));
  const ys = axisDomains.map((d, r) => d3.scaleLinear().domain(d).range([top(r) + PH, top(r)]));
  const fmt = (k: number) => (tickDecimals[k] === 2 ? d3.format(".2f") : d3.format("d"));

  const panels: React.ReactNode[] = [];
  let u = 0;
  for (let r = 0; r < n; r++) {
    for (let c = 0; c < n; c++) {
      const x0 = left(c);
      const y0 = top(r);
      const key = `${r}-${c}`;
      if (r > c) {
        panels.push(
          <g key={key} fill={INK}>
            {plants.map((p, i) => (
              <circle key={i} cx={xs[c](p[c])} cy={ys[r](p[r])} r={2.1} />
            ))}
          </g>
        );
      } else if (r < c) {
        const cx = x0 + PW / 2;
        const cy = y0 + PH / 2;
        panels.push(
          <g key={key} fontFamily={FONT} fontSize={18} fill={INK} textAnchor="middle">
            <text x={cx} y={cy - 3.5}>{`r= ${rValues[u]}`}</text>
            <text x={cx} y={cy + 17.5}>{`p= ${pValues[u]}`}</text>
          </g>
        );
        u++;
      } else {
        const counts = histCounts[r];
        const maxC = d3.max(counts) as number;
        const hy = d3.scaleLinear().domain([0, 1.5]).range([y0 + PH, y0]);
        const lines = traitLabels[r];
        panels.push(
          <g key={key}>
            <g clipPath={`url(#clip${r})`}>
              {counts.map((cnt, i) => {
                const a = xs[r](histStart[r] + i * histWidth[r]);
                const b = xs[r](histStart[r] + (i + 1) * histWidth[r]);
                const yt = hy(cnt / maxC);
                return (
                  <rect key={i} x={a} y={yt} width={b - a} height={y0 + PH - yt} fill="#fff" stroke="#111" strokeWidth={2} />
                );
              })}
            </g>
            <g fontFamily={FONT} fontSize={15} fontWeight="bold" fill={INK} textAnchor="middle">
              {lines.length === 1 ? (
                <text x={x0 + PW / 2} y={y0 + 24}>{lines[0]}</text>
              ) : (
                lines.map((l, i) => (
                  <text key={i} x={x0 + PW / 2} y={y0 + 17 + i * 17}>{l}</text>
                ))
              )}
            </g>
          </g>
        );
      }
    }
  }

  // axes
  const axes: React.ReactNode[] = [];
  for (let k = 0; k < n; k++) {
    const f = fmt(k);
    const bottomSide = k % 2 === 0;
    const yEdge = bottomSide ? top(n - 1) + PH : top(0);
    const dir = bottomSide ? 1 : -1;
    axes.push(
      <g key={`cx${k}`}>
        {axisTicks[k].map((t, i) => (
          <line key={i} x1={xs[k](t)} x2={xs[k](t)} y1={yEdge} y2={yEdge + dir * 4.5} stroke="#111" strokeWidth={1.3} />
        ))}
        {columnAxisLabels[k].map((t, i) => (
          <text key={`l${i}`} x={xs[k](t)} y={bottomSide ? yEdge + 26.5 : yEdge - 20} textAnchor="middle" fontFamily={FONT} fontSize={17} fill="#222">
            {f(t)}
          </text>
        ))}
      </g>
    );
    const leftSide = k % 2 === 1;
    const xEdge = leftSide ? left(0) : left(n - 1) + PW;
    const hd = leftSide ? -1 : 1;
    axes.push(
      <g key={`ry${k}`}>
        {axisTicks[k].map((t, i) => (
          <line key={i} x1={xEdge} x2={xEdge + hd * 4.5} y1={ys[k](t)} y2={ys[k](t)} stroke="#111" strokeWidth={1.3} />
        ))}
        {rowAxisLabels[k].map((t, i) => {
          const bx = leftSide ? xEdge - 20 : xEdge + 21;
          const by = ys[k](t);
          return (
            <text key={`l${i}`} transform={`translate(${bx},${by}) rotate(-90)`} textAnchor="middle" fontFamily={FONT} fontSize={17} fill="#222">
              {f(t)}
            </text>
          );
        })}
      </g>
    );
  }

  const frames: React.ReactNode[] = [];
  for (let r = 0; r < n; r++)
    for (let c = 0; c < n; c++)
      frames.push(
        <rect key={`f${r}-${c}`} x={left(c)} y={top(r)} width={PW} height={PH} fill="none" stroke="#111" strokeWidth={2} />
      );

  return (
    <svg width={W} height={H} viewBox={`0 0 ${W} ${H}`} style={{ position: "absolute", left: 0, top: 0, background: "#fff" }}>
      <defs>
        {traitLabels.map((_, k) => (
          <clipPath key={k} id={`clip${k}`}>
            <rect x={left(k)} y={top(k)} width={PW} height={PH} />
          </clipPath>
        ))}
      </defs>
      <rect x={0} y={0} width={W} height={H} fill="#fff" />
      <rect x={9.5} y={11} width={1283} height={1186} rx={13} fill="none" stroke="#333" strokeWidth={1.4} />
      {panels}
      {frames}
      {axes}
      <g fontFamily="Roboto, 'Open Sans', sans-serif" fontSize={17.5} fill="#231f20">
        {captionLines.map((segs, li) => (
          <text key={li} x={17} y={1083 + li * 22.6} textLength={captionWidths[li]} lengthAdjust="spacing">
            {segs.map((s, si) => (
              <tspan
                key={si}
                fontWeight={s.b ? "bold" : undefined}
                fontStyle={s.i ? "italic" : undefined}
                fontSize={s.sup ? 11 : undefined}
                baselineShift={s.sup ? "6" : undefined}
              >
                {s.t}
              </tspan>
            ))}
          </text>
        ))}
      </g>
    </svg>
  );
}
